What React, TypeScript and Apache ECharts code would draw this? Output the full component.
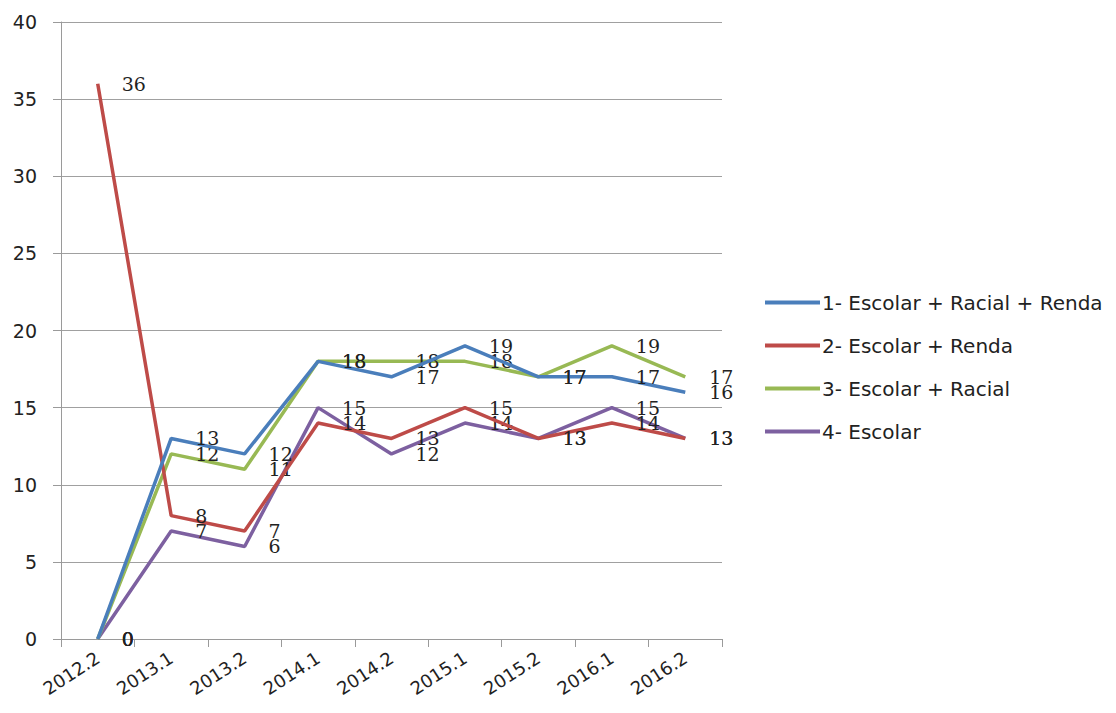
import React, { useEffect, useRef } from "react";
import * as echarts from "echarts";

const categories = ["2012.2", "2013.1", "2013.2", "2014.1", "2014.2", "2015.1", "2015.2", "2016.1", "2016.2"];
const seriesNames = ["1- Escolar + Racial + Renda", "2- Escolar + Renda", "3- Escolar + Racial", "4- Escolar"];
const s1 = [0, 13, 12, 18, 17, 19, 17, 17, 16];
const s2 = [36, 8, 7, 14, 13, 15, 13, 14, 13];
const s3 = [0, 12, 11, 18, 18, 18, 17, 19, 17];
const s4 = [0, 7, 6, 15, 12, 14, 13, 15, 13];
const colors = ["#4a7ebb", "#be4b48", "#98b954", "#7d60a0"];

export default function App() {
  const ref = useRef<HTMLDivElement>(null);
  useEffect(() => {
    if (!ref.current) return;
    const chart = echarts.init(ref.current, null, { renderer: "svg" });
    const data = [s1, s2, s3, s4];
    chart.setOption({
      animation: false,
      backgroundColor: "#ffffff",
      grid: { left: 61, right: 394, top: 22, bottom: 74, containLabel: false },
      legend: {
        orient: "vertical",
        left: 760,
        top: 286,
        itemWidth: 55,
        itemHeight: 4,
        itemGap: 20,
        icon: "rect",
        data: seriesNames,
        textStyle: { fontFamily: "DejaVu Sans", fontSize: 20, color: "#222", lineHeight: 23, padding: [0, 0, 0, -3] },
      },
      xAxis: {
        type: "category",
        data: categories,
        boundaryGap: true,
        axisLine: { lineStyle: { color: "#9a9a9a", width: 1 } },
        axisTick: { show: true, length: 8, lineStyle: { color: "#9a9a9a" } },
        axisLabel: { rotate: 33, fontFamily: "DejaVu Sans", fontSize: 18, color: "#222", margin: 17 },
      },
      yAxis: {
        type: "value",
        min: 0,
        max: 40,
        interval: 5,
        axisLine: { show: true, lineStyle: { color: "#9a9a9a" } },
        axisTick: { show: true, length: 8, lineStyle: { color: "#9a9a9a" } },
        splitLine: { lineStyle: { color: "#a0a0a0", width: 1 } },
        axisLabel: { fontFamily: "DejaVu Sans", fontSize: 19, color: "#222", margin: 24 },
      },
      series: seriesNames.map((name, i) => ({
        name,
        type: "line",
        data: data[i],
        color: colors[i],
        symbol: "circle",
        symbolSize: 0,
        showSymbol: true,
        lineStyle: { width: 3.5, color: colors[i] },
        label: {
          show: true,
          position: "right",
          distance: 24,
          fontFamily: "DejaVu Serif",
          fontSize: 19,
          color: "#222",
        },
        z: 10 - i,
      })),
    });
    return () => chart.dispose();
  }, []);
  return <div ref={ref} style={{ position: "fixed", left: 0, top: 0, width: 1116, height: 713 }} />;
}
